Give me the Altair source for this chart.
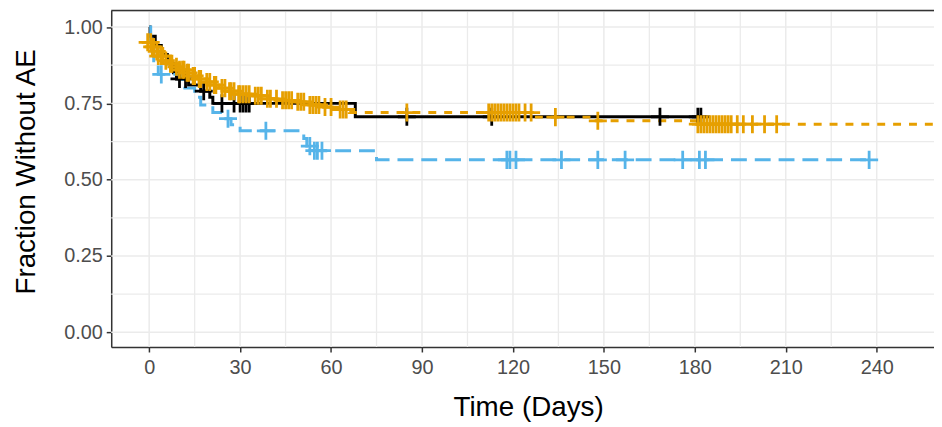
import altair as alt
import pandas as pd

# ---- Kaplan-Meier step points (days, fraction without AE) ----
black_t = [0, 0.3, 2, 4, 6, 8, 9, 13, 17, 20, 21, 68, 182]
black_s = [1.0, 0.97, 0.94, 0.91, 0.88, 0.85, 0.83, 0.81, 0.79, 0.77, 0.75, 0.706, 0.706]

orange_t = [0, 1, 2, 3, 5, 6, 8, 10, 12, 14, 16, 18, 21, 23, 26, 29, 34, 38, 43, 48,
            52, 57, 62, 66, 127, 146, 181, 258.9]
orange_s = [0.95, 0.935, 0.92, 0.905, 0.89, 0.88, 0.87, 0.86, 0.85, 0.84, 0.83, 0.82,
            0.81, 0.80, 0.79, 0.78, 0.775, 0.765, 0.76, 0.755, 0.745, 0.738, 0.73, 0.72,
            0.705, 0.693, 0.682, 0.682]

blue_t = [0, 0.5, 1.5, 3, 11, 15, 17, 21, 24, 27, 30, 51, 52, 54, 75, 237.5]
blue_s = [1.0, 0.93, 0.88, 0.845, 0.80, 0.77, 0.745, 0.72, 0.70, 0.68, 0.66, 0.635, 0.61,
          0.595, 0.565, 0.565]

# ---- censoring times (+ marks) ----
black_c = [10, 12, 18, 24, 28, 30, 31, 32, 33, 85, 113, 168.5, 181, 182]
orange_c = [-0.5, 0.5, 1, 1.5, 2.5, 3, 4, 4.5, 5.5, 7, 7.5, 9, 10, 11, 11.5, 12.5, 13, 14.5, 15,
            16.5, 17, 19, 20, 21.5, 22, 24, 25, 26.5, 27, 28, 29.5, 30, 31, 32, 33, 35, 36,
            37, 39, 40, 42, 44, 45, 46, 47, 49, 50, 51, 53, 54, 55, 56, 58, 60, 63, 64, 65,
            85, 112, 113, 114, 115, 116, 117, 118, 119, 120, 121, 122, 124, 126, 134, 148,
            181, 182, 183, 184, 185, 186, 187, 188, 189, 190, 191, 192, 194, 196, 199, 203, 207]
blue_c = [4, 26, 38.5, 53, 54.5, 55.5, 57, 118, 119, 121, 136, 148, 157, 176, 181.5, 183.5, 237.5]

groups = ["A", "B", "C"]
colors = ["#000000", "#E69F00", "#56B4E9"]
dashes = [[1, 0], [8, 8], [16, 8]]

x_major = [0, 30, 60, 90, 120, 150, 180, 210, 240]
x_minor = [15, 45, 75, 105, 135, 165, 195, 225]
y_major = [0, 0.25, 0.5, 0.75, 1.0]
y_minor = [0.125, 0.375, 0.625, 0.875]

X_DOM = [-12.52, 258.9]
Y_DOM = [-0.048, 1.054]
W, H = 829, 339


def value_at(ts, ss, t):
    v = ss[0]
    for ti, si in zip(ts, ss):
        if ti <= t:
            v = si
    return v


curves = [(black_t, black_s, black_c), (orange_t, orange_s, orange_c), (blue_t, blue_s, blue_c)]
line_rows, cens_rows = [], []
for g, (ts, ss, cs) in zip(groups, curves):
    for i, (t, s) in enumerate(zip(ts, ss)):
        line_rows.append({"group": g, "time": t, "surv": s, "order": i})
    for c in cs:
        cens_rows.append({"group": g, "time": c, "surv": value_at(ts, ss, c)})
lines_df = pd.DataFrame(line_rows)
cens_df = pd.DataFrame(cens_rows)

xs = alt.Scale(domain=X_DOM, nice=False, zero=False)
ys = alt.Scale(domain=Y_DOM, nice=False, zero=False)
cscale = alt.Scale(domain=groups, range=colors)
dscale = alt.Scale(domain=groups, range=dashes)

FONT = "Liberation Sans"

x_axis = alt.Axis(values=x_major, title="Time (Days)", grid=False, labelFontSize=20,
                  labelColor="#4D4D4D", labelFont=FONT, tickColor="#333333", tickSize=5,
                  tickWidth=1.5, labelPadding=6, domain=True, domainColor="#333333",
                  domainWidth=1.5, titleFont=FONT, titleFontSize=28, titleFontWeight="normal",
                  titleColor="#000000", titleX=420, titleY=61, titleBaseline="middle",
                  titleAlign="center", labelFlush=False)
y_axis = alt.Axis(values=y_major, format=".2f", title="Fraction Without AE", grid=False,
                  labelFontSize=20, labelColor="#4D4D4D", labelFont=FONT,
                  tickColor="#333333", tickSize=5, tickWidth=1.5, labelPadding=4,
                  domain=True, domainColor="#333333", domainWidth=1.5, titleFont=FONT,
                  titleFontSize=28, titleFontWeight="normal", titleColor="#000000",
                  titleX=-85, titleY=162, titleBaseline="middle", titleAlign="center",
                  titleAngle=270, labelFlush=False)

gx_major = alt.Chart(pd.DataFrame({"v": x_major})).mark_rule(color="#EBEBEB", strokeWidth=1.5).encode(
    x=alt.X("v:Q", scale=xs, axis=x_axis))
gx_minor = alt.Chart(pd.DataFrame({"v": x_minor})).mark_rule(color="#EBEBEB", strokeWidth=1.3).encode(
    x=alt.X("v:Q", scale=xs))
gy_major = alt.Chart(pd.DataFrame({"v": y_major})).mark_rule(color="#EBEBEB", strokeWidth=1.5).encode(
    y=alt.Y("v:Q", scale=ys, axis=y_axis))
gy_minor = alt.Chart(pd.DataFrame({"v": y_minor})).mark_rule(color="#EBEBEB", strokeWidth=1.3).encode(
    y=alt.Y("v:Q", scale=ys))

lines = alt.Chart(lines_df).mark_line(interpolate="step-after", strokeWidth=3, clip=True).encode(
    x=alt.X("time:Q", scale=xs),
    y=alt.Y("surv:Q", scale=ys),
    color=alt.Color("group:N", scale=cscale, legend=None),
    strokeDash=alt.StrokeDash("group:N", scale=dscale, legend=None),
    order="order:Q",
)

points = alt.Chart(cens_df).mark_point(shape="M-1,0H1M0,-1V1", filled=False, size=330,
                                       strokeWidth=2.8, opacity=1, clip=True).encode(
    x=alt.X("time:Q", scale=xs),
    y=alt.Y("surv:Q", scale=ys),
    color=alt.Color("group:N", scale=cscale, legend=None),
)

top_border = alt.Chart(pd.DataFrame({"a": [0]})).mark_rule(color="#333333", strokeWidth=1.5).encode(
    y=alt.value(0), x=alt.value(0), x2=alt.value(W))

chart = alt.layer(gx_minor, gy_minor, gx_major, gy_major, lines, points, top_border).properties(
    width=W, height=H,
    autosize=alt.AutoSizeParams(type="none"),
    padding={"left": 104, "top": 1, "right": 0, "bottom": 79},
).configure_view(stroke=None).configure(background="white")

chart.save("out.html", embed_options={"renderer": "svg", "actions": False})
